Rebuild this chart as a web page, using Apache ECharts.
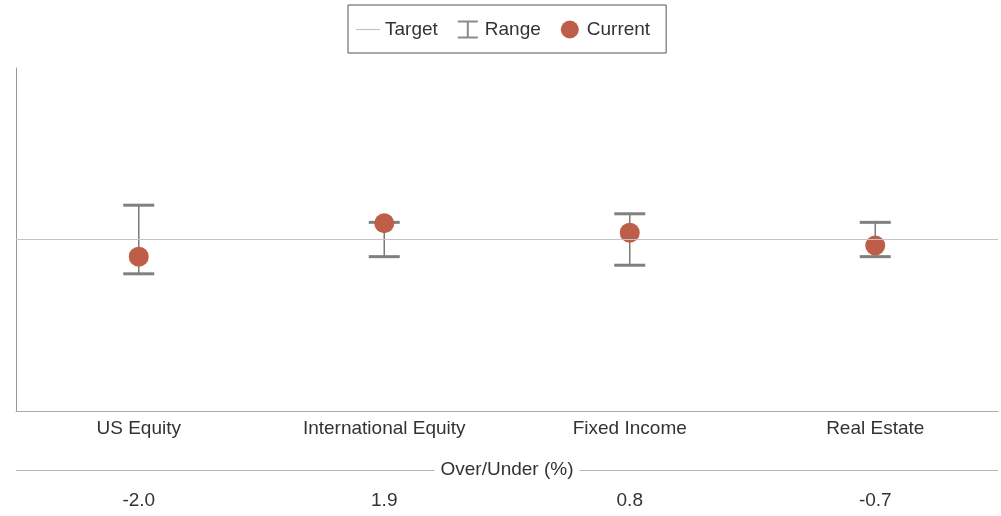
<!DOCTYPE html>
<html>
<head>
<meta charset="utf-8">
<script src="https://cdn.jsdelivr.net/npm/echarts@6/dist/echarts.min.js"></script>
<style>html,body{margin:0;padding:0;background:#fff}#c{width:1001px;height:516px}</style>
</head>
<body>
<div id="c"></div>
<script>
const categories = ['US Equity', 'International Equity', 'Fixed Income', 'Real Estate'];
const currentValues = [-2.0, 1.9, 0.8, -0.7];
const rangeLow = [-4.0, -2.0, -3.0, -2.0];
const rangeHigh = [4.0, 2.0, 3.0, 2.0];
const targetValue = 0;
const bottomTitle = 'Over/Under (%)';

const FONT = '"Liberation Sans", Arial, sans-serif';
const GREY = '#808080';
const DOT = '#BE5E48';
const GRID_L = 16, GRID_R = 3, W = 1001;

const chart = echarts.init(document.getElementById('c'), null, {renderer: 'canvas'});
chart.setOption({
  animation: false,
  textStyle: {fontFamily: FONT},
  legend: {
    left: 348, top: 5,
    padding: [15, 16, 14, 8],
    borderColor: '#555', borderWidth: 1,
    itemWidth: 24, itemHeight: 18, itemGap: 20,
    textStyle: {fontSize: 19, color: '#333', fontFamily: FONT},
    data: [
      {name: 'Target', icon: 'path://M0,0H20V1H0Z', itemStyle: {color: '#c4c4c4'}},
      {name: 'Range', icon: 'path://M0,0H20V2H11V16H20V18H0V16H9V2H0Z', itemStyle: {color: '#8a8a8a'}},
      {name: 'Current', icon: 'circle', itemStyle: {color: DOT}}
    ]
  },
  grid: {left: GRID_L, right: GRID_R, top: 68, bottom: 105, containLabel: false},
  xAxis: [
    {
      type: 'category', data: categories, position: 'bottom',
      axisLine: {show: true, onZero: false, lineStyle: {color: '#aaa', width: 1}},
      axisTick: {show: false},
      axisLabel: {fontSize: 19, color: '#333', margin: 8, fontFamily: FONT}
    },
    {
      type: 'category', data: categories, position: 'bottom', offset: 59,
      axisLine: {show: false, onZero: false},
      axisTick: {show: false},
      axisLabel: {fontSize: 19, color: '#333', margin: 21, fontFamily: FONT,
        formatter: (v, i) => currentValues[i].toFixed(1)}
    }
  ],
  yAxis: {
    type: 'value', min: -20, max: 20,
    axisLine: {show: true, onZero: false, lineStyle: {color: '#999', width: 1}},
    axisTick: {show: false}, axisLabel: {show: false}, splitLine: {show: false}
  },
  graphic: [
    {type: 'line', z: 1, shape: {x1: GRID_L, y1: 470.5, x2: W - GRID_R, y2: 470.5},
     style: {stroke: '#b5b5b5', lineWidth: 1}},
    {type: 'text', z: 2, x: (GRID_L + W - GRID_R) / 2, y: 470,
     style: {text: bottomTitle, fill: '#333', font: '19px ' + FONT, align: 'center', verticalAlign: 'middle',
             backgroundColor: '#fff', padding: [0, 6]}}
  ],
  series: [
    {
      name: 'Target', type: 'line', data: [], color: '#c4c4c4',
      markLine: {
        silent: true, symbol: 'none', label: {show: false},
        lineStyle: {color: '#c4c4c4', width: 1, type: 'solid'},
        data: [{yAxis: targetValue}]
      }
    },
    {
      name: 'Range', type: 'custom', color: GREY,
      data: categories.map((c, i) => [i, rangeLow[i], rangeHigh[i]]),
      encode: {x: 0, y: [1, 2]},
      renderItem: function (params, api) {
        const lo = api.coord([api.value(0), api.value(1)]);
        const hi = api.coord([api.value(0), api.value(2)]);
        const x = lo[0], w = 31;
        return {type: 'group', children: [
          {type: 'line', shape: {x1: x, y1: lo[1], x2: x, y2: hi[1]}, style: {stroke: '#7a7a7a', lineWidth: 1.5}},
          {type: 'line', shape: {x1: x - w / 2, y1: hi[1], x2: x + w / 2, y2: hi[1]}, style: {stroke: GREY, lineWidth: 3}},
          {type: 'line', shape: {x1: x - w / 2, y1: lo[1], x2: x + w / 2, y2: lo[1]}, style: {stroke: GREY, lineWidth: 3}}
        ]};
      },
      z: 2
    },
    {
      name: 'Current', type: 'scatter', data: currentValues,
      symbol: 'circle', symbolSize: 20,
      itemStyle: {color: DOT, opacity: 1},
      z: 3
    }
  ]
});
</script>
</body>
</html>
